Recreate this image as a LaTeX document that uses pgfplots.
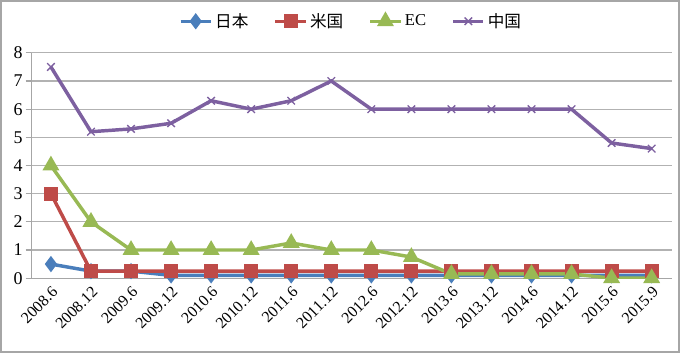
\documentclass[border=0pt]{standalone}
\usepackage{pgfplots}
\pgfplotsset{compat=1.18}
\usepackage{fontspec}
\setmainfont{Liberation Serif}
\newfontfamily\cjk{Noto Sans CJK JP}
\definecolor{cjp}{HTML}{4A7EBB}
\definecolor{cus}{HTML}{BE4B48}
\definecolor{cec}{HTML}{98B954}
\definecolor{ccn}{HTML}{7D60A0}
\pgfplotstableread{
x jp us ec cn
0 0.5 3.0 4.0 7.5
1 0.25 0.25 2.0 5.2
2 0.25 0.25 1.0 5.3
3 0.1 0.25 1.0 5.5
4 0.1 0.25 1.0 6.3
5 0.1 0.25 1.0 6.0
6 0.1 0.25 1.25 6.3
7 0.1 0.25 1.0 7.0
8 0.1 0.25 1.0 6.0
9 0.1 0.25 0.75 6.0
10 0.1 0.25 0.15 6.0
11 0.1 0.25 0.15 6.0
12 0.1 0.25 0.15 6.0
13 0.1 0.25 0.15 6.0
14 0.1 0.25 0.0 4.8
15 0.1 0.25 0.0 4.6
}\data
\begin{document}
\begin{tikzpicture}[x=1pt,y=1pt]
\path[draw=gray!70,line width=1.5pt] (0,0) rectangle (510,264);
\begin{axis}[
  at={(22.5pt,55.5pt)}, anchor=south west,
  scale only axis, width=482pt, height=169.5pt,
  xmin=-0.5, xmax=15.5, ymin=0, ymax=8,
  ytick={0,1,...,8},
  xtick={0,...,15},
  xticklabels={2008.6,2008.12,2009.6,2009.12,2010.6,2010.12,2011.6,2011.12,2012.6,2012.12,2013.6,2013.12,2014.6,2014.12,2015.6,2015.9},
  x tick label style={rotate=45, anchor=north east, inner sep=1pt, font=\fontsize{12}{13}\selectfont},
  y tick label style={font=\fontsize{13.5}{14}\selectfont, inner sep=2pt},
  /pgf/number format/assume math mode=true,
  extra x ticks={-0.5,0.5,...,15.5}, extra x tick labels={},
  extra x tick style={major tick length=4pt, tick style={gray}, grid=none},
  major x tick style={draw=none},
  ymajorgrids, grid style={gray!60, line width=0.8pt},
  axis x line*=bottom, axis y line*=left,
  axis line style={gray!70},
  ytick style={gray!70, line width=0.8pt}, tick align=outside, major tick length=4pt,
  legend style={at={(0.5,1.08)}, anchor=south, draw=none, legend columns=-1, font=\fontsize{12.5}{13}\selectfont, /tikz/every even column/.append style={column sep=17pt}},
  legend image code/.code={\draw[mark repeat=2,mark phase=2,#1] plot coordinates {(0cm,0cm) (0.4cm,0cm) (0.8cm,0cm)};},
  every axis plot/.append style={line width=2.6pt},
]
\addplot[cjp, mark=diamond*, mark size=4pt, mark options={solid}] table[x=x,y=jp]{\data};
\addlegendentry{\cjk 日本}
\addplot[cus, mark=square*, mark size=4pt] table[x=x,y=us]{\data};
\addlegendentry{\cjk 米国}
\addplot[cec, mark=triangle*, mark size=4.8pt] table[x=x,y=ec]{\data};
\addlegendentry{EC}
\addplot[ccn, mark=x, mark size=4pt, mark options={line width=1pt}] table[x=x,y=cn]{\data};
\addlegendentry{\cjk 中国}
\end{axis}
\end{tikzpicture}
\end{document}
